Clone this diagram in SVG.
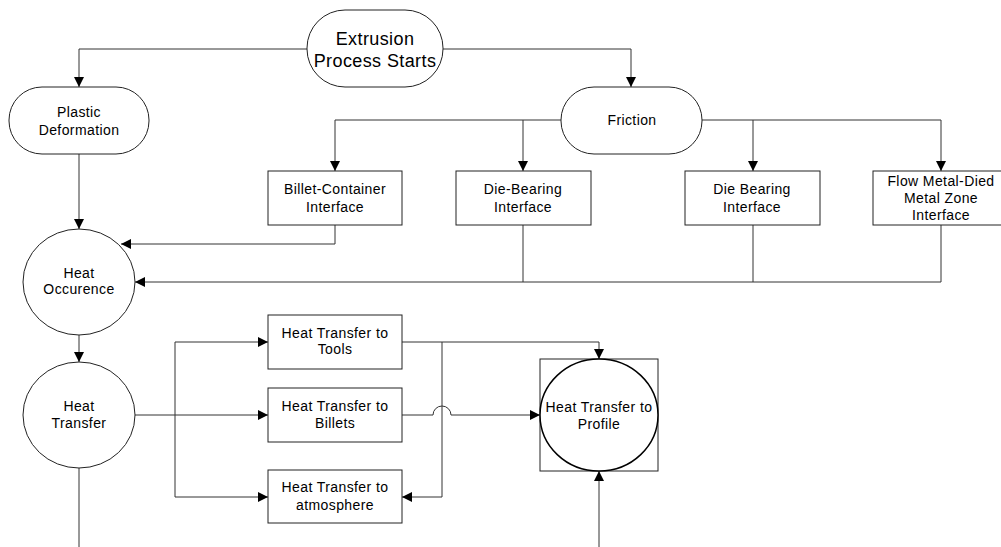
<svg xmlns="http://www.w3.org/2000/svg" width="1001" height="547" viewBox="0 0 1001 547">
<defs>
<marker id="ah" viewBox="0 0 10 10" refX="10" refY="5" markerWidth="10" markerHeight="10" markerUnits="userSpaceOnUse" orient="auto">
<path d="M0,0 L10,5 L0,10 Z" fill="#000"/>
</marker>
<style>
.s{fill:#fff;stroke:#222;stroke-width:1}
.c{fill:none;stroke:#333;stroke-width:1}
.a{marker-end:url(#ah)}
text{font-family:"Liberation Sans",Arial,sans-serif;font-size:14px;letter-spacing:0.4px;fill:#000;text-anchor:middle}
.big{font-size:18px}
</style>
</defs>
<rect width="1001" height="547" fill="#fff"/>
<g id="connectors">
<path class="c a" d="M307,49 H79 V87"/>
<path class="c a" d="M443,49 H631 V87"/>
<path class="c a" d="M561,120 H335 V171"/>
<path class="c a" d="M523,120 V171"/>
<path class="c a" d="M702,120 H941 V171"/>
<path class="c a" d="M753,120 V171"/>
<path class="c a" d="M79,154 V229"/>
<path class="c a" d="M335,225 V244 H121"/>
<path class="c" d="M523,225 V282"/>
<path class="c" d="M941,225 V282 H753"/>
<path class="c a" d="M753,225 V282 H135"/>
<path class="c a" d="M79,335 V362"/>
<path class="c" d="M135,415 H175"/>
<path class="c a" d="M175,415 V342 H268"/>
<path class="c a" d="M175,415 H268"/>
<path class="c a" d="M175,415 V497 H268"/>
<path class="c a" d="M402,342 H599 V359"/>
<path class="c a" d="M442,342 V497 H402"/>
<path class="c a" d="M402,415 H433 A9,9 0 0 1 451,415 H540"/>
<path class="c a" d="M599,547 V471"/>
<path class="c" d="M79,468 V547"/>
</g>
<g id="extrusion">
<rect class="s" x="307" y="10" width="136" height="77" rx="38" ry="38"/>
<text class="big" x="375" y="45">Extrusion</text>
<text class="big" x="375" y="67">Process Starts</text>
</g>
<g id="plastic">
<rect class="s" x="9" y="87" width="140" height="67" rx="33" ry="33"/>
<text x="79" y="117">Plastic</text>
<text x="79" y="135">Deformation</text>
</g>
<g id="friction">
<rect class="s" x="561" y="87" width="141" height="67" rx="33" ry="33"/>
<text x="632" y="125">Friction</text>
</g>
<g id="billet-container">
<rect class="s" x="268" y="171" width="134" height="54"/>
<text x="335" y="194">Billet-Container</text>
<text x="335" y="212">Interface</text>
</g>
<g id="die-bearing-1">
<rect class="s" x="456" y="171" width="135" height="54"/>
<text x="523" y="194">Die-Bearing</text>
<text x="523" y="212">Interface</text>
</g>
<g id="die-bearing-2">
<rect class="s" x="685" y="171" width="135" height="54"/>
<text x="752" y="194">Die Bearing</text>
<text x="752" y="212">Interface</text>
</g>
<g id="flow-metal">
<rect class="s" x="873" y="171" width="136" height="54"/>
<text x="941" y="186">Flow Metal-Died</text>
<text x="941" y="203">Metal Zone</text>
<text x="941" y="220">Interface</text>
</g>
<g id="heat-occurence">
<ellipse class="s" cx="79" cy="282" rx="56" ry="53"/>
<text x="79" y="278">Heat</text>
<text x="79" y="294">Occurence</text>
</g>
<g id="heat-transfer">
<ellipse class="s" cx="79" cy="415" rx="56" ry="53"/>
<text x="79" y="411">Heat</text>
<text x="79" y="428">Transfer</text>
</g>
<g id="ht-tools">
<rect class="s" x="268" y="315" width="134" height="54"/>
<text x="335" y="338">Heat Transfer to</text>
<text x="335" y="354">Tools</text>
</g>
<g id="ht-billets">
<rect class="s" x="268" y="388" width="134" height="54"/>
<text x="335" y="411">Heat Transfer to</text>
<text x="335" y="428">Billets</text>
</g>
<g id="ht-atmosphere">
<rect class="s" x="268" y="470" width="134" height="53"/>
<text x="335" y="492">Heat Transfer to</text>
<text x="335" y="510">atmosphere</text>
</g>
<g id="ht-profile">
<rect class="s" x="540" y="359" width="118" height="112"/>
<ellipse cx="599" cy="415" rx="59" ry="56" fill="#fff" stroke="#000" stroke-width="1.5"/>
<text x="599" y="412">Heat Transfer to</text>
<text x="599" y="429">Profile</text>
</g>
</svg>
